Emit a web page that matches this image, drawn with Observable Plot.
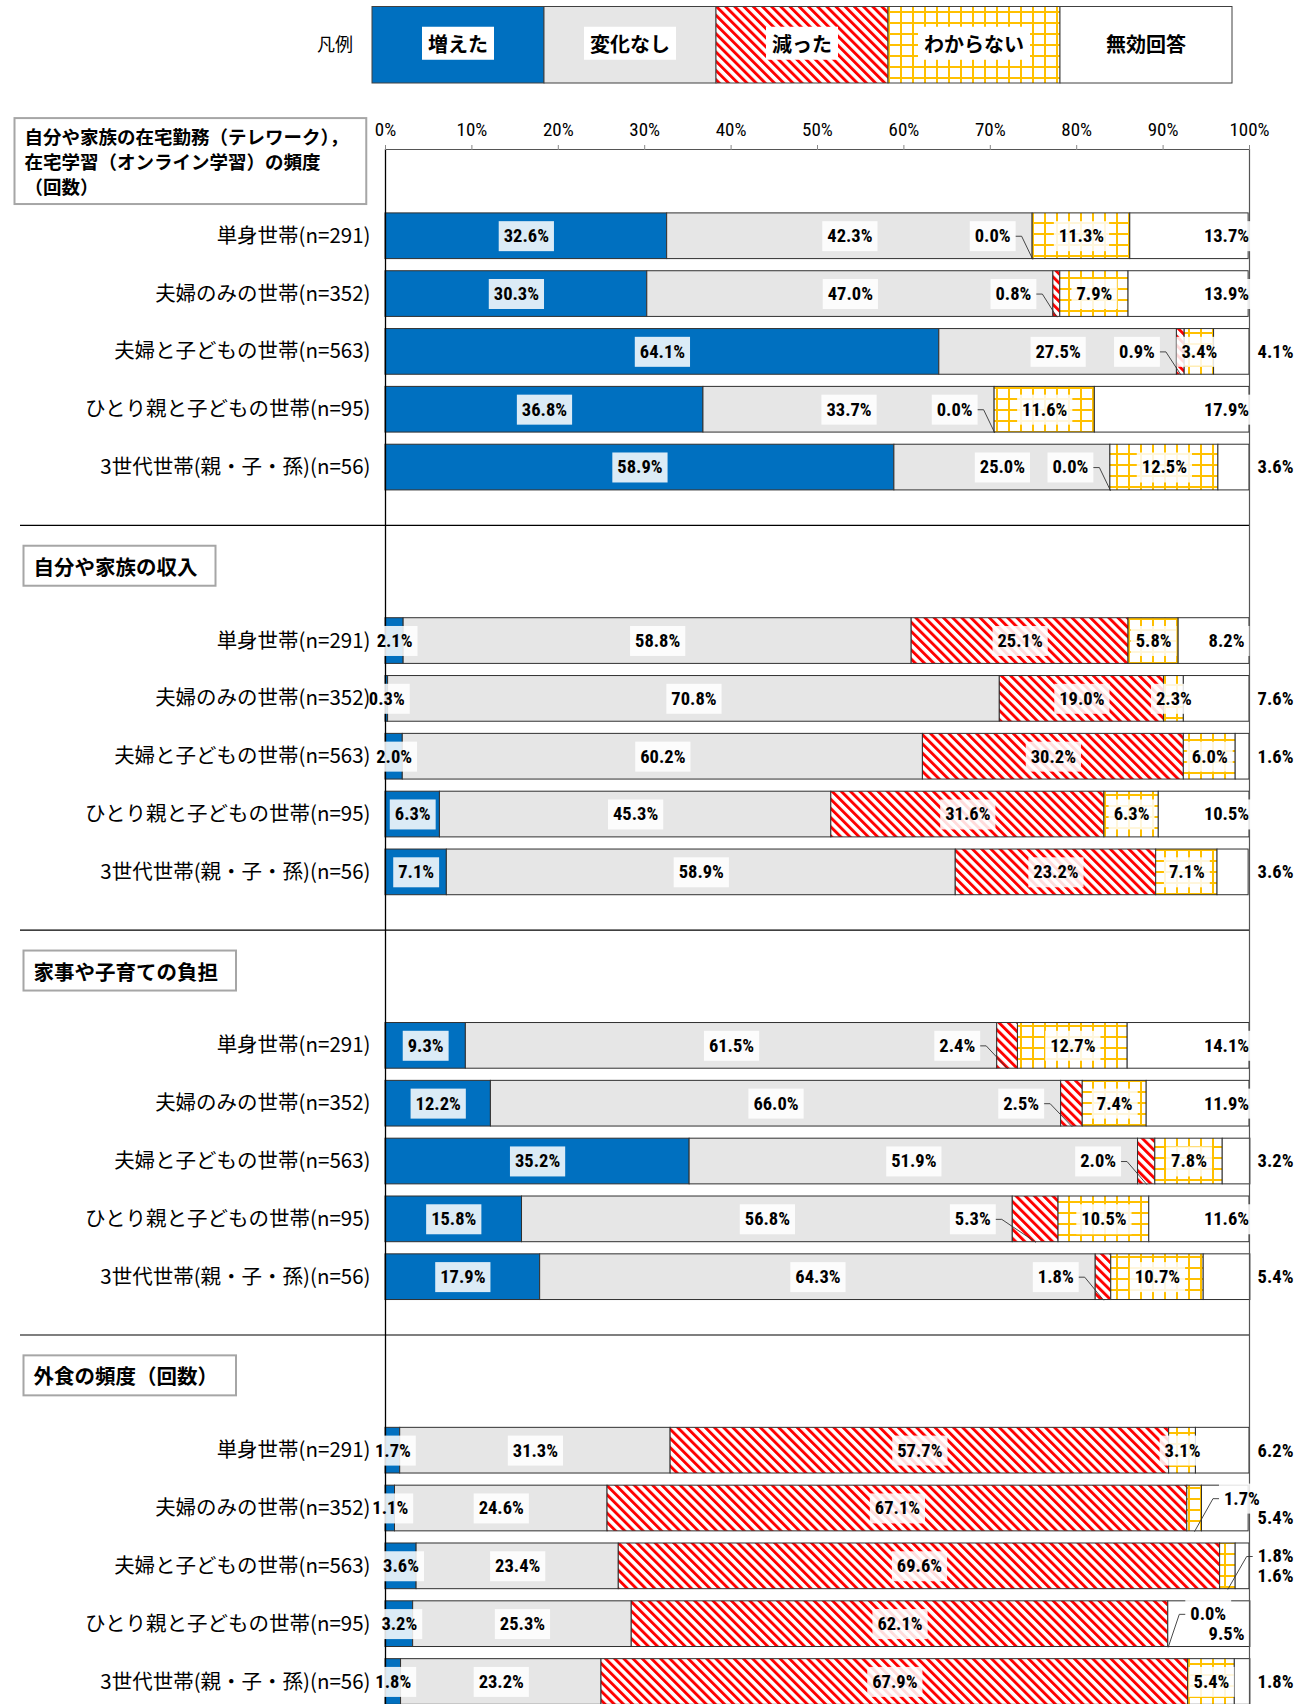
<!DOCTYPE html>
<html><head><meta charset="utf-8">
<script src="https://cdn.jsdelivr.net/npm/d3@7"></script>
<script src="https://cdn.jsdelivr.net/npm/@observablehq/plot@0.6"></script>
<style>
body{margin:0;background:#fff;}
#legend svg,#chart svg{display:block;}
</style></head><body>
<div id="legend"></div>
<div id="chart"></div>
<script>
// ---------- data ----------
const series = ["増えた", "変化なし", "減った", "わからない", "無効回答"];
const households = ["単身世帯(n=291)", "夫婦のみの世帯(n=352)", "夫婦と子どもの世帯(n=563)", "ひとり親と子どもの世帯(n=95)", "3世代世帯(親・子・孫)(n=56)"];
const sectionTitles = [
  "自分や家族の在宅勤務（テレワーク），\n在宅学習（オンライン学習）の頻度\n（回数）",
  "自分や家族の収入",
  "家事や子育ての負担",
  "外食の頻度（回数）"
];
const teleworkValues = [
  [32.6, 42.3, 0.0, 11.3, 13.7],
  [30.3, 47.0, 0.8, 7.9, 13.9],
  [64.1, 27.5, 0.9, 3.4, 4.1],
  [36.8, 33.7, 0.0, 11.6, 17.9],
  [58.9, 25.0, 0.0, 12.5, 3.6]
];
const incomeValues = [
  [2.1, 58.8, 25.1, 5.8, 8.2],
  [0.3, 70.8, 19.0, 2.3, 7.6],
  [2.0, 60.2, 30.2, 6.0, 1.6],
  [6.3, 45.3, 31.6, 6.3, 10.5],
  [7.1, 58.9, 23.2, 7.1, 3.6]
];
const houseworkValues = [
  [9.3, 61.5, 2.4, 12.7, 14.1],
  [12.2, 66.0, 2.5, 7.4, 11.9],
  [35.2, 51.9, 2.0, 7.8, 3.2],
  [15.8, 56.8, 5.3, 10.5, 11.6],
  [17.9, 64.3, 1.8, 10.7, 5.4]
];
const eatingOutValues = [
  [1.7, 31.3, 57.7, 3.1, 6.2],
  [1.1, 24.6, 67.1, 1.7, 5.4],
  [3.6, 23.4, 69.6, 1.8, 1.6],
  [3.2, 25.3, 62.1, 0.0, 9.5],
  [1.8, 23.2, 67.9, 5.4, 1.8]
];
const xTicks = [0, 10, 20, 30, 40, 50, 60, 70, 80, 90, 100];

// ---------- layout ----------
const W = 1313, LEG_H = 90, H = 1704 - LEG_H;
const ML = 385, MR = 64, MT = 59;
const ROW = 57.83;
const pxPerPct = (W - ML - MR) / 100;
const px = n => n / pxPerPct;
const yMax = (H - MT) / ROW;
const PER_SECTION = 7;
const BAR_PAD = 0.105;
const NARROW = '"Liberation Sans Narrow","Arial Narrow","Roboto Condensed","Liberation Sans",sans-serif';
const CJK = '"Noto Sans CJK JP","Noto Sans JP",sans-serif';
const MIXED = '"Liberation Sans Narrow","Noto Sans CJK JP",sans-serif';
const svgNS = "http://www.w3.org/2000/svg";

function patternDefs(p) {
  return `
  <pattern id="${p}-stripes" patternUnits="userSpaceOnUse" width="6.5" height="6.5" patternTransform="rotate(-45)">
    <rect width="6.5" height="6.5" fill="#fff"/>
    <rect width="2.9" height="6.5" fill="#ff0000"/>
  </pattern>
  <pattern id="${p}-grid" patternUnits="userSpaceOnUse" width="12" height="11">
    <rect width="12" height="11" fill="#fff"/>
    <rect x="0" y="0" width="2" height="11" fill="#ffc000"/>
    <rect x="0" y="0" width="12" height="2" fill="#ffc000"/>
  </pattern>`;
}
const fillsFor = p => ["#0070c0", "#e6e6e6", `url(#${p}-stripes)`, `url(#${p}-grid)`, "#ffffff"];

// ---------- legend ----------
(function drawLegend() {
  const svg = d3.select("#legend").append("svg").attr("width", W).attr("height", LEG_H);
  svg.append("defs").html(patternDefs("L"));
  const fills = fillsFor("L");
  const L = {x: 372, y: 6.5, cw: 172, h: 76.5};
  series.forEach((name, k) => {
    svg.append("rect").attr("x", L.x + k * L.cw).attr("y", L.y).attr("width", L.cw).attr("height", L.h)
      .attr("fill", fills[k]).attr("stroke", "#404040").attr("stroke-width", 1);
  });
  series.forEach((name, k) => {
    const t = svg.append("text").attr("x", L.x + k * L.cw + L.cw / 2).attr("y", L.y + L.h / 2)
      .attr("text-anchor", "middle").attr("dy", "0.35em")
      .style("font-family", CJK).style("font-weight", "bold").style("font-size", "20px").text(name);
    const b = t.node().getBBox();
    svg.insert("rect", () => t.node()).attr("x", b.x - 6).attr("y", b.y - 2).attr("width", b.width + 12).attr("height", b.height + 4).attr("fill", "#fff");
  });
  svg.append("text").attr("x", 335).attr("y", 45).attr("text-anchor", "middle").attr("dy", "0.35em")
    .style("font-family", CJK).style("font-size", "18px").text("凡例");
})();

// ---------- derived tables ----------
const sectionValues = [teleworkValues, incomeValues, houseworkValues, eatingOutValues];
const segs = [], labels = [], outerLabels = [], leaders = [], cats = [], headers = [], separators = [];
sectionValues.forEach((sec, s) => {
  const multi = sectionTitles[s].includes("\n");
  headers.push({y: s * PER_SECTION + 0.2, text: sectionTitles[s], fs: multi ? 18.5 : 20.5, x: multi ? -px(ML - 24) : -px(ML - 33)});
  if (s > 0) separators.push(s * PER_SECTION - 0.5);
  sec.forEach((vals, i) => {
    const r = s * PER_SECTION + 1 + i;
    cats.push({y: r + 0.5, text: households[i]});
    const unknownOutside = vals[3] < 2;
    let c = 0;
    vals.forEach((v, k) => {
      segs.push({k, x1: c, x2: c + v, y1: r + BAR_PAD, y2: r + 1 - BAR_PAD});
      const text = v.toFixed(1) + "%";
      let lab = {x: c + v / 2, y: r + 0.5, text, anchor: "middle"};
      if (k === 2 && v < 6) {
        lab = {x: c - px(22), y: r + 0.5, text, anchor: "end"};
        const id = `d${s}-${i}`;
        leaders.push({id, x: c - px(17), y: r + 0.5}, {id, x: c - px(11), y: r + 0.5}, {id, x: c + v / 2, y: r + 1 - BAR_PAD});
      } else if (k === 3 && unknownOutside) {
        lab = {x: c + v + px(22), y: r + 0.33, text, anchor: "start"};
        const id = `u${s}-${i}`;
        leaders.push({id, x: c + v + px(17), y: r + 0.33}, {id, x: c + v + px(11), y: r + 0.33}, {id, x: c + v / 2, y: r + 1 - BAR_PAD});
      } else if (k === 4) {
        const inside = v >= 8;
        const o = {x: inside ? 100 - px(23) : 100 + px(26), y: unknownOutside ? r + 0.67 : r + 0.5, text, anchor: "middle"};
        if (inside && !unknownOutside) labels.push(o); else outerLabels.push(o);
        c += v;
        return;
      }
      labels.push(lab);
      c += v;
    });
  });
});
const sepLeft = -px(ML - 20);

// ---------- chart ----------
const fills = fillsFor("P");
const labelStyle = {x: "x", y: "y", text: "text", fontSize: 18.5, fontWeight: "bold", fontFamily: NARROW, className: "vlab", fill: "#000"};
const chart = Plot.plot({
  width: W, height: H,
  marginLeft: ML, marginRight: MR, marginTop: MT, marginBottom: 0,
  x: {domain: [0, 100], label: null},
  y: {domain: [0, yMax], reverse: true, axis: null},
  style: {fontFamily: NARROW, fontSize: "16px", color: "#000", background: "#fff", overflow: "visible"},
  marks: [
    ...series.map((name, k) => Plot.rectX(segs.filter(d => d.k === k), {
      x1: "x1", x2: "x2", y1: "y1", y2: "y2", fill: fills[k], stroke: "#303030", strokeWidth: 1
    })),
    Plot.ruleY(separators, {y: d => d, x1: sepLeft, x2: 100, stroke: "#000", strokeWidth: 1.2}),
    Plot.ruleX([0], {y1: 0, y2: yMax, stroke: "#000", strokeWidth: 1.3}),
    Plot.ruleX([100], {y1: 0, y2: yMax, stroke: "#555", strokeWidth: 1.2}),
    Plot.ruleY([0], {x1: 0, x2: 100, stroke: "#555", strokeWidth: 1.2}),
    Plot.axisX({anchor: "top", ticks: xTicks, tickFormat: d => d + "%", tickSize: 5, tickPadding: 9, fontSize: 19, stroke: "#888", label: null}),
    Plot.text(headers, {x: "x", y: "y", text: "text", fontSize: "fs", textAnchor: "start", lineAnchor: "middle", lineHeight: 1.35, fontWeight: "bold", fontFamily: CJK, className: "hdr", fill: "#000"}),
    Plot.line(leaders, {x: "x", y: "y", z: "id", stroke: "#333", strokeWidth: 0.9}),
    Plot.text(labels.filter(d => d.anchor === "middle"), {...labelStyle, textAnchor: "middle"}),
    Plot.text(labels.filter(d => d.anchor === "end"), {...labelStyle, textAnchor: "end"}),
    Plot.text(labels.filter(d => d.anchor === "start"), {...labelStyle, textAnchor: "start"}),
    Plot.text(outerLabels, {...labelStyle, className: "vout", textAnchor: "middle"}),
    Plot.text(cats, {x: 0, y: "y", text: "text", textAnchor: "end", dx: -15, fontSize: 20.5, fontFamily: MIXED, fill: "#000"})
  ]
});
document.getElementById("chart").append(chart);
const defs = document.createElementNS(svgNS, "defs");
defs.innerHTML = patternDefs("P");
chart.insertBefore(defs, chart.firstChild);

function boxText(selector, pad, attrs) {
  chart.querySelectorAll(selector).forEach(t => {
    const b = t.getBBox();
    const r = document.createElementNS(svgNS, "rect");
    r.setAttribute("x", b.x - pad.l);
    r.setAttribute("y", b.y - pad.t);
    r.setAttribute("width", b.width + pad.l + pad.r);
    r.setAttribute("height", b.height + pad.t + pad.b);
    if (t.hasAttribute("transform")) r.setAttribute("transform", t.getAttribute("transform"));
    for (const [k, v] of Object.entries(attrs)) r.setAttribute(k, v);
    t.parentNode.insertBefore(r, t);
  });
}
boxText("g.vlab text", {l: 5, r: 5, t: 4, b: 4}, {fill: "#fff", "fill-opacity": 0.86});
boxText("g.hdr text", {l: 10, r: 18, t: 5, b: 5}, {fill: "#fff", stroke: "#a6a6a6", "stroke-width": 2});
</script>
</body></html>
